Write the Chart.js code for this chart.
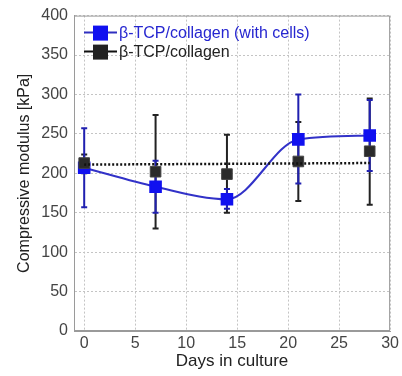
<!DOCTYPE html>
<html lang="en">
<head>
  <meta charset="utf-8" />
  <title>Compressive modulus</title>
  <script src="https://cdn.jsdelivr.net/npm/chart.js@4.4.1/dist/chart.umd.min.js"></script>
  <style>
    * { margin: 0; padding: 0; box-sizing: border-box; }
    body { background: #fff; }
    #wrap { width: 402px; height: 376px; position: relative; }
  </style>
</head>
<body>
  <div id="wrap"><canvas id="chart"></canvas></div>
  <script>
    // data
    const days = [0, 7, 14, 21, 28];
    const withCells = [207, 183, 167, 243, 248];
    const withCellsLow = [157, 150, 155, 187, 203];
    const withCellsHigh = [257, 216, 180, 300, 293];
    const noCells = [213, 202, 199, 215, 228];
    const noCellsLow = [200, 130, 150, 165, 160];
    const noCellsHigh = [224, 274, 249, 265, 295];
    const fitDays = [0, 28];
    const fitValues = [211, 213];

    const xTicks = [0, 5, 10, 15, 20, 25, 30];
    const yTicks = [0, 50, 100, 150, 200, 250, 300, 350, 400];

    const blue = "#1010f0";
    const dark = "#2a2a2a";
    const font = "'Liberation Sans', Arial, sans-serif";

    const toXY = (xs, ys) => xs.map((x, i) => ({ x: x, y: ys[i] }));

    // error bars drawn under the markers, plus the frame around the plot
    const errorBars = {
      id: "errorBars",
      beforeDatasetsDraw(chart) {
        const { ctx, scales, chartArea } = chart;
        ctx.save();
        ctx.strokeStyle = "#9a9a9a";
        ctx.lineWidth = 1;
        ctx.strokeRect(chartArea.left + 0.5, chartArea.top + 0.5,
          chartArea.right - chartArea.left - 1, chartArea.bottom - chartArea.top - 1);
        const sets = [
          { lo: noCellsLow, hi: noCellsHigh, color: "#222" },
          { lo: withCellsLow, hi: withCellsHigh, color: "#2020b0" },
        ];
        ctx.lineWidth = 2;
        for (const s of sets) {
          ctx.strokeStyle = s.color;
          days.forEach((d, i) => {
            const px = scales.x.getPixelForValue(d);
            const y1 = scales.y.getPixelForValue(s.lo[i]);
            const y2 = scales.y.getPixelForValue(s.hi[i]);
            ctx.beginPath();
            ctx.moveTo(px, y1); ctx.lineTo(px, y2);
            ctx.moveTo(px - 3, y1); ctx.lineTo(px + 3, y1);
            ctx.moveTo(px - 3, y2); ctx.lineTo(px + 3, y2);
            ctx.stroke();
          });
        }
        ctx.restore();
      },
    };

    // legend in the upper left corner of the plot
    const cornerLegend = {
      id: "cornerLegend",
      afterDraw(chart) {
        const { ctx, chartArea } = chart;
        const items = [
          { text: "β-TCP/collagen (with cells)", color: blue, textColor: "#2626d0", line: "#3030c0" },
          { text: "β-TCP/collagen", color: "#222", textColor: "#222", line: "#111" },
        ];
        ctx.save();
        ctx.font = "16px " + font;
        ctx.textBaseline = "middle";
        items.forEach((it, i) => {
          const y = chartArea.top + 17 + i * 19;
          const x0 = chartArea.left + 10;
          ctx.strokeStyle = it.line;
          ctx.lineWidth = 2;
          ctx.beginPath();
          ctx.moveTo(x0, y); ctx.lineTo(x0 + 33, y);
          ctx.stroke();
          ctx.fillStyle = it.color;
          ctx.fillRect(x0 + 9, y - 7, 15, 15);
          ctx.fillStyle = it.textColor;
          ctx.fillText(it.text, x0 + 35, y + 1);
        });
        ctx.restore();
      },
    };

    new Chart(document.getElementById("chart"), {
      type: "line",
      data: {
        datasets: [
          {
            label: "β-TCP/collagen",
            data: toXY(days, noCells),
            showLine: false,
            pointStyle: "rect",
            pointRadius: 7.5,
            pointBackgroundColor: dark,
            pointBorderColor: "#444",
            pointBorderWidth: 1,
            order: 1,
          },
          {
            label: "β-TCP/collagen (with cells)",
            data: toXY(days, withCells),
            borderColor: "#3232c8",
            borderWidth: 2,
            cubicInterpolationMode: "monotone",
            pointStyle: "rect",
            pointRadius: 7.5,
            pointBackgroundColor: blue,
            pointBorderColor: blue,
            order: 2,
          },
          {
            label: "fit",
            data: toXY(fitDays, fitValues),
            borderColor: "#111",
            borderWidth: 2.5,
            borderDash: [2, 2],
            pointRadius: 0,
            order: 0,
          },
        ],
      },
      options: {
        responsive: true,
        maintainAspectRatio: false,
        animation: false,
        layout: { padding: { top: 14, right: 10, left: 11, bottom: 0 } },
        plugins: { legend: { display: false }, tooltip: { enabled: false } },
        scales: {
          x: {
            type: "linear",
            min: -1,
            max: 30,
            afterBuildTicks: (s) => { s.ticks = xTicks.map((v) => ({ value: v })); },
            afterFit: (s) => { s.height = 45; },
            ticks: { color: "#444", font: { family: font, size: 16 }, padding: 3 },
            grid: { color: "#c4c4c4", drawTicks: false },
            border: { color: "#9a9a9a", width: 1, dash: [2, 2] },
            title: {
              display: true,
              text: "Days in culture",
              color: "#222",
              font: { family: font, size: 17 },
              padding: { top: 0 },
            },
          },
          y: {
            min: 0,
            max: 400,
            afterBuildTicks: (s) => { s.ticks = yTicks.map((v) => ({ value: v })); },
            afterFit: (s) => { s.width = 63; },
            ticks: { color: "#444", font: { family: font, size: 16 }, padding: 6 },
            grid: { color: "#c4c4c4", drawTicks: false },
            border: { color: "#9a9a9a", width: 1, dash: [2, 2] },
            title: {
              display: true,
              text: "Compressive modulus [kPa]",
              color: "#222",
              font: { family: font, size: 16 },
              padding: { bottom: 2 },
            },
          },
        },
      },
      plugins: [errorBars, cornerLegend],
    });
  </script>
</body>
</html>
